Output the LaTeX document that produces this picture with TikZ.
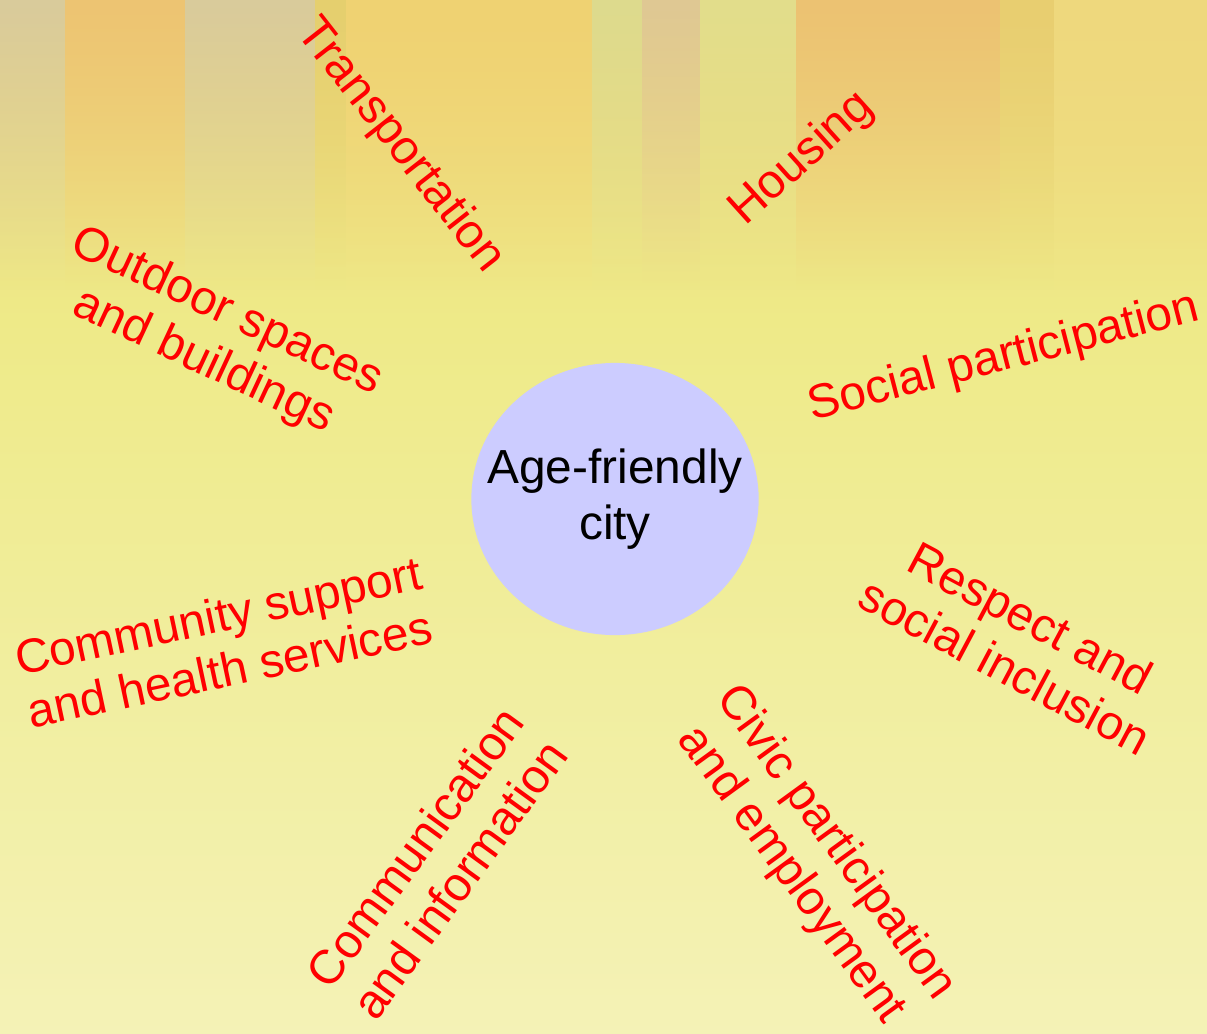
\documentclass[tikz,border=0pt]{standalone}
\usepackage{fontspec}
\setmainfont{Liberation Sans}
\usetikzlibrary{fadings,shapes.geometric}
\definecolor{bgtop}{HTML}{EED67A}
\definecolor{bgyellow}{HTML}{EEEA88}
\definecolor{bgpale}{HTML}{F4F2B6}
\definecolor{cityblue}{HTML}{CCCCFF}
\tikzfading[name=fade down, top color=transparent!0, bottom color=transparent!100]
\begin{document}
\begin{tikzpicture}[x=0.01cm, y=-0.01cm,
    topic/.style={text=red, font=\fontsize{13.6}{15.6}\selectfont, align=center, inner sep=0pt},
    hub/.style={ellipse, fill=cityblue, minimum width=2.86cm, minimum height=2.72cm,
                inner xsep=-0.26cm, inner ysep=0pt,
                font=\fontsize{13.6}{15.8}\selectfont, align=center}]
    % background
    \useasboundingbox (0,0) rectangle (1207,1033);
    \shade[top color=bgtop, bottom color=bgyellow] (0,0) rectangle (1207,320);
    \shade[top color=bgyellow, bottom color=bgpale] (0,320) rectangle (1207,1033);
    % blurred stripes at the top
    \foreach \xa/\xb/\col in {0/65/D9CB9C, 65/185/EDC472, 185/315/D9CB9C, 315/346/E5CF6E,
                              346/592/F0D272, 592/642/DDDB8E, 642/700/DFC894, 700/796/E2DE8C,
                              796/1000/ECC272, 1000/1054/E8CE70, 1054/1207/EFD97E} {
        \definecolor{stripe}{HTML}{\col}
        \fill[stripe, path fading=fade down] (\xa,0) rectangle (\xb,290);
    }
    % centre
    \node[hub] (city) at (615,499) {Age-friendly\\city};
    % topics
    \node[topic, rotate=-52] (transport) at (400,146) {Transportation};
    \node[topic, rotate=42]  (housing)   at (802,159) {Housing};
    \node[topic, rotate=14.5](social)    at (1004,358) {Social participation};
    \node[topic, rotate=-25] (outdoor)   at (215,337) {Outdoor spaces\\and buildings};
    \node[topic, rotate=12]  (community) at (224,642) {Community support\\and health services};
    \node[topic, rotate=-28] (respect)   at (1018,642) {Respect and\\social inclusion};
    \node[topic, rotate=54]  (communic)  at (437,863) {Communication\\and information};
    \node[topic, rotate=-54] (civic)     at (813,859) {Civic participation\\and employment};
\end{tikzpicture}
\end{document}
